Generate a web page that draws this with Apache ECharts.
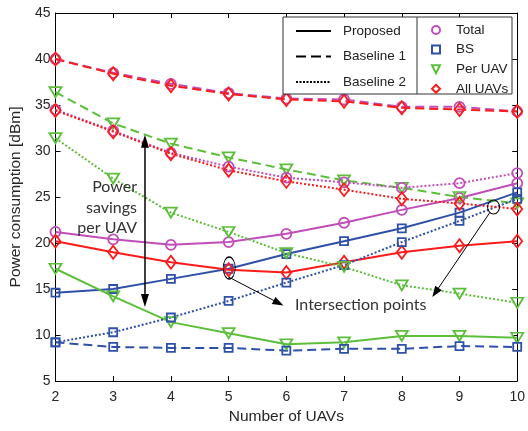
<!DOCTYPE html>
<html>
<head>
<meta charset="utf-8">
<script src="https://cdn.jsdelivr.net/npm/echarts@6/dist/echarts.min.js"></script>
<style>
html,body{margin:0;padding:0;background:#fff;}
#chart{width:528px;height:431px;}
</style>
</head>
<body>
<div id="chart"></div>
<script>
// ---- data ----
const xs = [2, 3, 4, 5, 6, 7, 8, 9, 10];
const propTotal   = [21.2, 20.4, 19.8, 20.1, 21.0, 22.2, 23.6, 24.9, 26.5];
const propBS      = [14.6, 15.0, 16.1, 17.2, 18.8, 20.2, 21.6, 23.3, 25.5];
const propPerUAV  = [17.2, 14.2, 11.4, 10.2, 9.0, 9.2, 9.9, 9.9, 9.7];
const propAllUAVs = [20.2, 19.0, 17.9, 17.1, 16.8, 17.9, 19.0, 19.7, 20.2];
const b1Total     = [40.0, 38.5, 37.3, 36.3, 35.7, 35.6, 34.8, 34.8, 34.3];
const b1BS        = [9.2, 8.7, 8.6, 8.6, 8.3, 8.5, 8.5, 8.8, 8.7];
const b1PerUAV    = [36.4, 33.0, 30.8, 29.3, 28.0, 26.8, 26.0, 25.0, 24.3];
const b1AllUAVs   = [40.0, 38.4, 37.1, 36.2, 35.6, 35.4, 34.7, 34.5, 34.3];
const b2Total     = [34.5, 32.2, 29.8, 28.3, 27.1, 26.6, 26.0, 26.5, 27.6];
const b2BS        = [9.2, 10.3, 11.9, 13.7, 15.7, 17.6, 20.1, 22.4, 24.8];
const b2PerUAV    = [31.4, 27.0, 23.3, 21.2, 18.9, 17.4, 15.4, 14.5, 13.5];
const b2AllUAVs   = [34.4, 32.1, 29.7, 27.9, 26.7, 25.8, 24.8, 24.3, 23.7];

const methodNames = ['Proposed', 'Baseline 1', 'Baseline 2'];
const metricNames = ['Total', 'BS', 'Per UAV', 'All UAVs'];
const xLabel = 'Number of UAVs';
const yLabel = 'Power consumption [dBm]';

// ---- styles ----
const colors = {Total: '#C04DB8', BS: '#2F50A8', 'Per UAV': '#5DBE3C', 'All UAVs': '#FA1C1C'};
const symbols = {
  Total: {symbol: 'circle', size: 10, rotate: 0},
  BS: {symbol: 'rect', size: 8, rotate: 0},
  'Per UAV': {symbol: 'triangle', size: [12, 10], rotate: 180},
  'All UAVs': {symbol: 'diamond', size: [10, 13], rotate: 0}
};
const dashes = {'Proposed': 'solid', 'Baseline 1': [9, 5], 'Baseline 2': [2, 2]};

const table = {
  'Proposed': [propTotal, propBS, propPerUAV, propAllUAVs],
  'Baseline 1': [b1Total, b1BS, b1PerUAV, b1AllUAVs],
  'Baseline 2': [b2Total, b2BS, b2PerUAV, b2AllUAVs]
};

const series = [];
methodNames.forEach(m => {
  metricNames.forEach((k, i) => {
    const vals = table[m][i];
    series.push({
      name: m + ' - ' + k,
      type: 'line',
      xAxisIndex: 0, yAxisIndex: 0,
      data: xs.map((x, j) => [x, vals[j]]),
      symbol: symbols[k].symbol,
      symbolSize: symbols[k].size,
      symbolRotate: symbols[k].rotate,
      showAllSymbol: true,
      lineStyle: {color: colors[k], width: 2, type: dashes[m]},
      itemStyle: {color: 'rgba(0,0,0,0)', borderColor: colors[k], borderWidth: 1.8},
      silent: true,
      z: 3
    });
  });
});

// dummy series for legends
methodNames.forEach(m => {
  series.push({
    name: m, type: 'line', data: [],
    symbol: 'circle',
    lineStyle: {color: '#000', width: 2, type: m === 'Baseline 2' ? [2, 1.5] : (m === 'Baseline 1' ? [10, 5] : 'solid')},
    itemStyle: {color: 'rgba(0,0,0,0)', borderColor: 'rgba(0,0,0,0)', borderWidth: 0}
  });
});
metricNames.forEach(k => {
  series.push({
    name: k, type: 'line', data: [],
    symbol: symbols[k].symbol, symbolRotate: symbols[k].rotate,
    lineStyle: {color: 'rgba(0,0,0,0)', width: 0},
    itemStyle: {color: 'rgba(0,0,0,0)', borderColor: colors[k], borderWidth: 2}
  });
});

// annotation series (arrows & ellipses, in data coordinates)
series.push({
  name: 'annot', type: 'line', data: [], silent: true, z: 6,
  markLine: {
    silent: true, animation: false,
    label: {show: false},
    data: [
      [{coord: [3.55, 31.05], symbol: 'triangle', symbolSize: [8, 13], lineStyle: {color: '#000', width: 1.5, type: 'solid'}},
       {coord: [3.55, 13.75], symbol: 'triangle', symbolSize: [8, 13]}],
      [{coord: [5.0, 16.3], symbol: 'none', lineStyle: {color: '#000', width: 1, type: 'solid'}},
       {coord: [5.865, 13.48], symbol: 'triangle', symbolSize: [8, 11]}],
      [{coord: [9.52, 23.26], symbol: 'none', lineStyle: {color: '#000', width: 1, type: 'solid'}},
       {coord: [8.583, 14.62], symbol: 'triangle', symbolSize: [8, 11]}]
    ]
  },
  markPoint: {
    silent: true, animation: false,
    label: {show: false},
    itemStyle: {color: 'rgba(0,0,0,0)', borderColor: '#000', borderWidth: 1},
    data: [
      {coord: [5.01, 17.28], symbol: 'circle', symbolSize: [12, 22]},
      {coord: [9.59, 23.91], symbol: 'circle', symbolSize: [12, 14]}
    ]
  }
});

const axisFont = {fontFamily: 'Liberation Sans, Arial, sans-serif', fontSize: 14, color: '#262626'};

const option = {
  animation: false,
  backgroundColor: '#fff',
  grid: {left: 51, right: 9, top: 13, bottom: 50, containLabel: false},
  xAxis: [
    {type: 'value', min: 2, max: 10, interval: 1, position: 'bottom',
     name: xLabel, nameLocation: 'middle', nameGap: 28,
     nameTextStyle: {fontFamily: 'Liberation Sans, Arial, sans-serif', fontSize: 15.5, color: '#262626'},
     axisLine: {lineStyle: {color: '#000', width: 1}},
     axisTick: {inside: true, length: 5, lineStyle: {color: '#000'}},
     axisLabel: Object.assign({margin: 9}, axisFont),
     splitLine: {show: false}},
    {type: 'value', min: 2, max: 10, interval: 1, position: 'top',
     axisLine: {show: true, lineStyle: {color: '#000', width: 1}},
     axisTick: {inside: true, length: 5, lineStyle: {color: '#000'}},
     axisLabel: {show: false}, splitLine: {show: false}}
  ],
  yAxis: [
    {type: 'value', min: 5, max: 45, interval: 5, position: 'left',
     name: yLabel, nameLocation: 'middle', nameGap: 19, nameRotate: 90,
     nameTextStyle: {fontFamily: 'Liberation Sans, Arial, sans-serif', fontSize: 15.5, color: '#262626'},
     axisLine: {show: true, lineStyle: {color: '#000', width: 1}},
     axisTick: {show: true, inside: true, length: 5, lineStyle: {color: '#000'}},
     axisLabel: Object.assign({margin: 5}, axisFont),
     splitLine: {show: false}},
    {type: 'value', min: 5, max: 45, interval: 5, position: 'right',
     axisLine: {show: true, lineStyle: {color: '#000', width: 1}},
     axisTick: {show: true, inside: true, length: 5, lineStyle: {color: '#000'}},
     axisLabel: {show: false}, splitLine: {show: false}}
  ],
  legend: [
    {data: methodNames, orient: 'vertical', left: 295, top: 24, padding: 0,
     itemWidth: 35, itemHeight: 14, itemGap: 11.5, z: 20,
     selectedMode: false,
     itemStyle: {color: 'rgba(0,0,0,0)', borderColor: 'rgba(0,0,0,0)', borderWidth: 0},
     textStyle: {fontFamily: 'Liberation Sans, Arial, sans-serif', fontSize: 13.5, color: '#222', padding: [0, 0, 0, 7]}},
    {data: metricNames, orient: 'vertical', left: 421, top: 23, padding: 0,
     itemWidth: 30, itemHeight: 10, itemGap: 5.6, z: 20,
     selectedMode: false,
     lineStyle: {width: 0, color: 'rgba(0,0,0,0)'},
     textStyle: {fontFamily: 'Liberation Sans, Arial, sans-serif', fontSize: 13.5, color: '#222'}}
  ],
  graphic: [
    {type: 'rect', shape: {x: 283, y: 17, width: 229, height: 77}, z: 15,
     style: {fill: '#fff', stroke: '#333', lineWidth: 1}},
    {type: 'line', shape: {x1: 417, y1: 17, x2: 417, y2: 94}, z: 16,
     style: {stroke: '#333', lineWidth: 1}},
    {type: 'text', x: 137, y: 177, z: 16,
     style: {text: 'Power\nsavings\nper UAV', font: '16px Lato, "Open Sans", sans-serif', fill: '#333',
             textAlign: 'right', textVerticalAlign: 'top', lineHeight: 20.5}},
    {type: 'text', x: 295, y: 305, z: 16,
     style: {text: 'Intersection points', font: '16px Lato, "Open Sans", sans-serif', fill: '#333',
             textAlign: 'left', textVerticalAlign: 'middle'}}
  ],
  series: series
};

const chart = echarts.init(document.getElementById('chart'), null, {renderer: 'canvas'});
chart.setOption(option);
</script>
</body>
</html>
